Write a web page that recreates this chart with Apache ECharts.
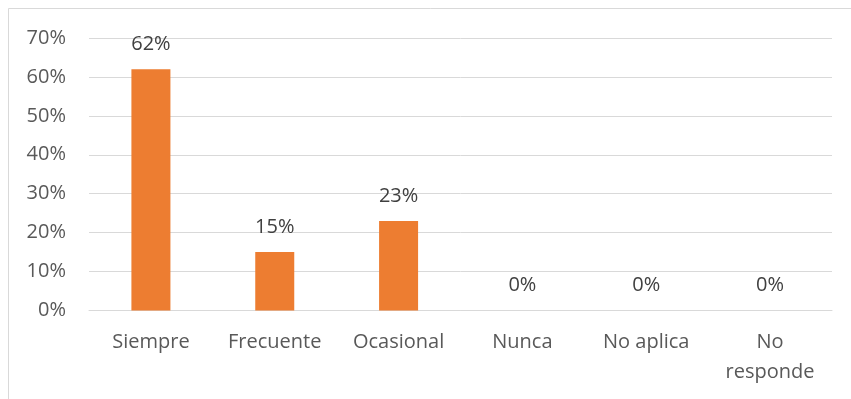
<!DOCTYPE html>
<html>
<head>
<meta charset="utf-8">
<script src="https://cdn.jsdelivr.net/npm/echarts@6/dist/echarts.min.js"></script>
<style>
  html, body { margin: 0; padding: 0; background: #fff; }
  #chart { width: 851px; height: 399px; }
</style>
</head>
<body>
<div id="chart"></div>
<script>
// Response categories and their share of answers (percent)
const categories = ['Siempre', 'Frecuente', 'Ocasional', 'Nunca', 'No aplica', 'No\nresponde'];
const shares = [62, 15, 23, 0, 0, 0];
const yTicks = { min: 0, max: 70, step: 10 };

const FONT = '"Open Sans", sans-serif';
const SIZE = 20;

const chart = echarts.init(document.getElementById('chart'), null, { renderer: 'canvas' });

chart.setOption({
  animation: false,
  backgroundColor: '#ffffff',
  graphic: [{
    type: 'rect',
    shape: { x: 8.5, y: 8.5, width: 900, height: 500 },
    style: { fill: 'none', stroke: '#d9d9d9', lineWidth: 1 },
    silent: true
  }],
  grid: { left: 89, right: 19, top: 38, bottom: 88.5, containLabel: false },
  xAxis: {
    type: 'category',
    data: categories,
    axisLine: { show: true, lineStyle: { color: '#d9d9d9', width: 1 } },
    axisTick: { show: false },
    axisLabel: {
      color: '#595959',
      fontFamily: FONT,
      fontSize: SIZE,
      margin: 17,
      lineHeight: 30,
      interval: 0
    }
  },
  yAxis: {
    type: 'value',
    min: yTicks.min,
    max: yTicks.max,
    interval: yTicks.step,
    axisLine: { show: false },
    axisTick: { show: false },
    splitLine: { lineStyle: { color: '#d9d9d9', width: 1 } },
    axisLabel: {
      color: '#595959',
      fontFamily: FONT,
      fontSize: SIZE,
      margin: 23,
      formatter: v => v + '%'
    }
  },
  series: [{
    type: 'bar',
    data: shares,
    barWidth: '31.5%',
    itemStyle: { color: '#ED7D31' },
    label: {
      show: true,
      position: 'top',
      distance: 15,
      color: '#404040',
      fontFamily: FONT,
      fontSize: SIZE,
      formatter: p => p.value + '%'
    }
  }]
});
</script>
</body>
</html>
